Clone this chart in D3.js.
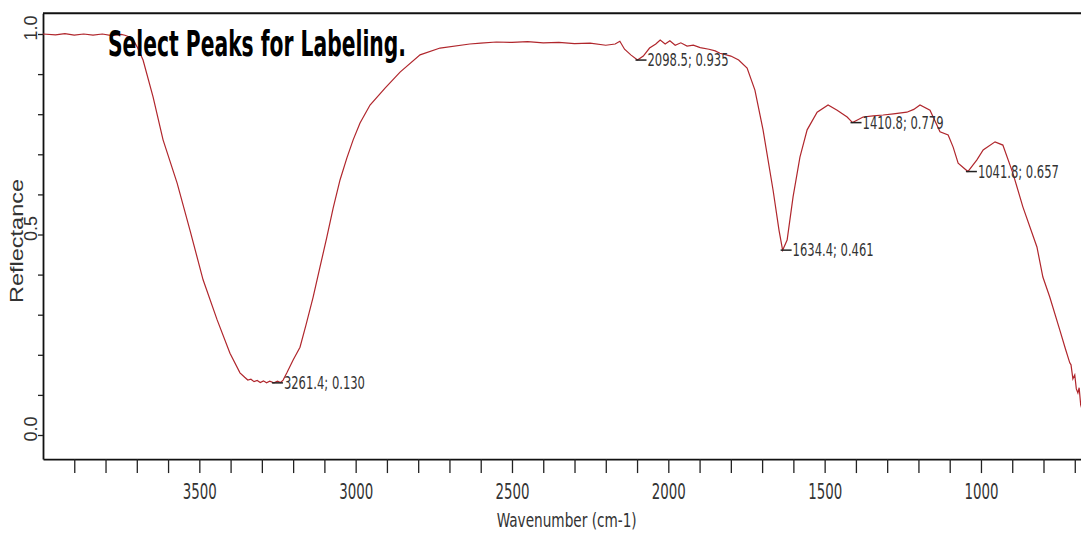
<!DOCTYPE html>
<meta charset="utf-8">
<head>
  <script src="https://cdn.jsdelivr.net/npm/d3@7"></script>
  <style>
    body { margin: 0; background: #fff; }
    .narrow { font-family: "Liberation Sans Narrow", "Arial Narrow", "DejaVu Sans Condensed", sans-serif; }
  </style>
</head>
<body>
<div id="container"></div>
<script>

// Spectrum (wavenumber in cm-1, reflectance)
var wavenumbers = [4000, 3960, 3930, 3900, 3870, 3840, 3810, 3780, 3750, 3738, 3715, 3699, 3680, 3648, 3616,
  3571, 3530, 3488, 3443, 3402, 3370, 3355, 3345, 3335, 3325, 3315, 3305, 3295, 3285,
  3275, 3261.4, 3250, 3240, 3232, 3220, 3200, 3178, 3159, 3136, 3114, 3092, 3072, 3050, 3028, 3008,
  2986, 2954, 2906, 2858, 2794, 2730, 2635, 2600, 2550, 2500, 2450, 2400, 2350, 2300, 2250, 2200,
  2170, 2155, 2140, 2120, 2098.5, 2080, 2060, 2040, 2026, 2010, 1995, 1978, 1960, 1940, 1920, 1898,
  1870, 1850, 1835, 1800, 1775, 1748, 1723, 1697, 1665, 1646, 1634.4, 1620, 1601, 1579, 1556, 1524,
  1489, 1460, 1428, 1410.8, 1377, 1345, 1313, 1280, 1237, 1215, 1195, 1163, 1131, 1105, 1089, 1073,
  1041.8, 1013, 993, 955, 930, 898, 866, 821, 802, 780, 748, 730, 716, 712, 706, 700, 695, 690, 686, 681, 675];
var reflectance = [1.000, 0.998, 1.001, 0.997, 1.000, 0.997, 1.000, 0.996, 0.999, 0.997, 0.990, 0.968, 0.935, 0.843, 0.736,
  0.628, 0.511, 0.387, 0.287, 0.204, 0.155, 0.144, 0.137, 0.139, 0.133, 0.136, 0.131, 0.135, 0.130,
  0.134, 0.130, 0.134, 0.131, 0.137, 0.155, 0.187, 0.219, 0.274, 0.344, 0.419, 0.494, 0.566, 0.636, 0.691, 0.736,
  0.778, 0.823, 0.865, 0.905, 0.948, 0.965, 0.975, 0.977, 0.980, 0.979, 0.981, 0.978, 0.979, 0.976, 0.977, 0.972,
  0.975, 0.982, 0.962, 0.948, 0.935, 0.945, 0.965, 0.975, 0.985, 0.975, 0.983, 0.972, 0.978, 0.970, 0.972, 0.966,
  0.962, 0.958, 0.952, 0.945, 0.935, 0.915, 0.860, 0.761, 0.611, 0.511, 0.461, 0.486, 0.594, 0.693, 0.761, 0.805,
  0.823, 0.810, 0.793, 0.779, 0.793, 0.796, 0.798, 0.801, 0.805, 0.812, 0.823, 0.810, 0.756, 0.748, 0.718, 0.678,
  0.657, 0.686, 0.711, 0.731, 0.723, 0.653, 0.569, 0.469, 0.394, 0.344, 0.262, 0.215, 0.180, 0.175, 0.140, 0.150, 0.115, 0.105, 0.118, 0.075, 0.060];

// Labelled peaks
var peakWavenumbers = [3261.4, 2098.5, 1634.4, 1410.8, 1041.8];
var peakValues = [0.130, 0.935, 0.461, 0.779, 0.657];

var majorTicks = [3500, 3000, 2500, 2000, 1500, 1000];
var yLabels = [0.0, 0.5, 1.0];

var width = 1081, height = 533;

var svg = d3.select("#container").append("svg")
  .attr("width", width)
  .attr("height", height);

// scales
var x = d3.scaleLinear().domain([4000, 650]).range([43, 1090.4]);
var y = d3.scaleLinear().domain([0, 1]).range([435, 34]);
var yBottom = y(-0.06), yTop = y(1.052);

// frame top
svg.append("line")
  .attr("x1", x(4000)).attr("x2", width)
  .attr("y1", yTop).attr("y2", yTop)
  .attr("stroke", "#111").attr("stroke-width", 2);

// x axis
var xAxis = d3.axisBottom(x)
  .tickValues(d3.range(3900, 650, -100))
  .tickSize(14)
  .tickSizeOuter(0)
  .tickFormat(function(d) { return majorTicks.indexOf(d) >= 0 ? d : ""; });

var gx = svg.append("g")
  .attr("transform", "translate(0," + yBottom + ")")
  .call(xAxis);
gx.select(".domain").attr("stroke", "#111").attr("stroke-width", 1.8);
gx.selectAll(".tick line").attr("stroke", "#222").attr("stroke-width", 1.3);
gx.selectAll(".tick text")
  .attr("class", "narrow")
  .attr("y", 25)
  .attr("dy", "0.71em")
  .attr("font-size", 21)
  .attr("fill", "#333")
  .each(function(d) {
    if (majorTicks.indexOf(d) >= 0) d3.select(this).attr("textLength", 34).attr("lengthAdjust", "spacingAndGlyphs");
  });

// y axis
var yAxis = d3.axisLeft(d3.scaleLinear().domain([-0.06, 1.052]).range([yBottom, yTop]))
  .tickValues(d3.range(0, 1.01, 0.1))
  .tickSize(5)
  .tickSizeOuter(0)
  .tickFormat("");
var gy = svg.append("g")
  .attr("transform", "translate(" + x(4000) + ",0)")
  .call(yAxis);
gy.select(".domain").attr("stroke", "#111").attr("stroke-width", 1.8);
gy.selectAll(".tick line").attr("stroke", "#222").attr("stroke-width", 1.3);

svg.selectAll(".ylab")
  .data(yLabels)
  .enter().append("text")
  .attr("class", "ylab")
  .attr("transform", function(d) { return "translate(37," + (y(d) - 6) + ") rotate(-90)"; })
  .attr("text-anchor", "middle")
  .attr("font-family", "Liberation Sans, Arial, sans-serif")
  .attr("font-size", 18)
  .attr("fill", "#333")
  .text(function(d) { return d.toFixed(1); });

// axis titles
svg.append("text")
  .attr("class", "narrow")
  .attr("x", (x(4000) + x(650)) / 2)
  .attr("y", 527)
  .attr("text-anchor", "middle")
  .attr("font-size", 20)
  .attr("fill", "#333")
  .attr("textLength", 140)
  .attr("lengthAdjust", "spacingAndGlyphs")
  .text("Wavenumber (cm-1)");

svg.append("text")
  .attr("transform", "translate(23,241) rotate(-90)")
  .attr("text-anchor", "middle")
  .attr("font-family", "Liberation Sans, Arial, sans-serif")
  .attr("font-size", 19)
  .attr("fill", "#333")
  .attr("textLength", 124)
  .attr("lengthAdjust", "spacingAndGlyphs")
  .text("Reflectance");

// spectrum
var pts = wavenumbers.map(function(w, i) { return [w, reflectance[i]]; });
var line = d3.line()
  .x(function(d) { return x(d[0]); })
  .y(function(d) { return y(d[1]); });

svg.append("path")
  .datum(pts)
  .attr("d", line)
  .attr("fill", "none")
  .attr("stroke", "#b0262c")
  .attr("stroke-width", 1.2);

// title
svg.append("text")
  .attr("class", "narrow")
  .attr("x", 108)
  .attr("y", 56)
  .attr("font-size", 36)
  .attr("font-weight", "bold")
  .attr("fill", "#000")
  .attr("textLength", 298)
  .attr("lengthAdjust", "spacingAndGlyphs")
  .text("Select Peaks for Labeling.");

// peak labels
var peaks = svg.selectAll(".peak")
  .data(peakWavenumbers)
  .enter().append("g")
  .attr("class", "peak")
  .attr("transform", function(d, i) { return "translate(" + x(d) + "," + y(peakValues[i]) + ")"; });

peaks.append("line")
  .attr("x1", -2).attr("x2", 9)
  .attr("y1", 0).attr("y2", 0)
  .attr("stroke", "#222").attr("stroke-width", 1.5);

peaks.append("text")
  .attr("class", "narrow")
  .attr("x", 10)
  .attr("y", 6)
  .attr("font-size", 17)
  .attr("fill", "#333")
  .attr("textLength", 81)
  .attr("lengthAdjust", "spacingAndGlyphs")
  .text(function(d, i) { return d.toFixed(1) + "; " + peakValues[i].toFixed(3); });

</script>
</body>
